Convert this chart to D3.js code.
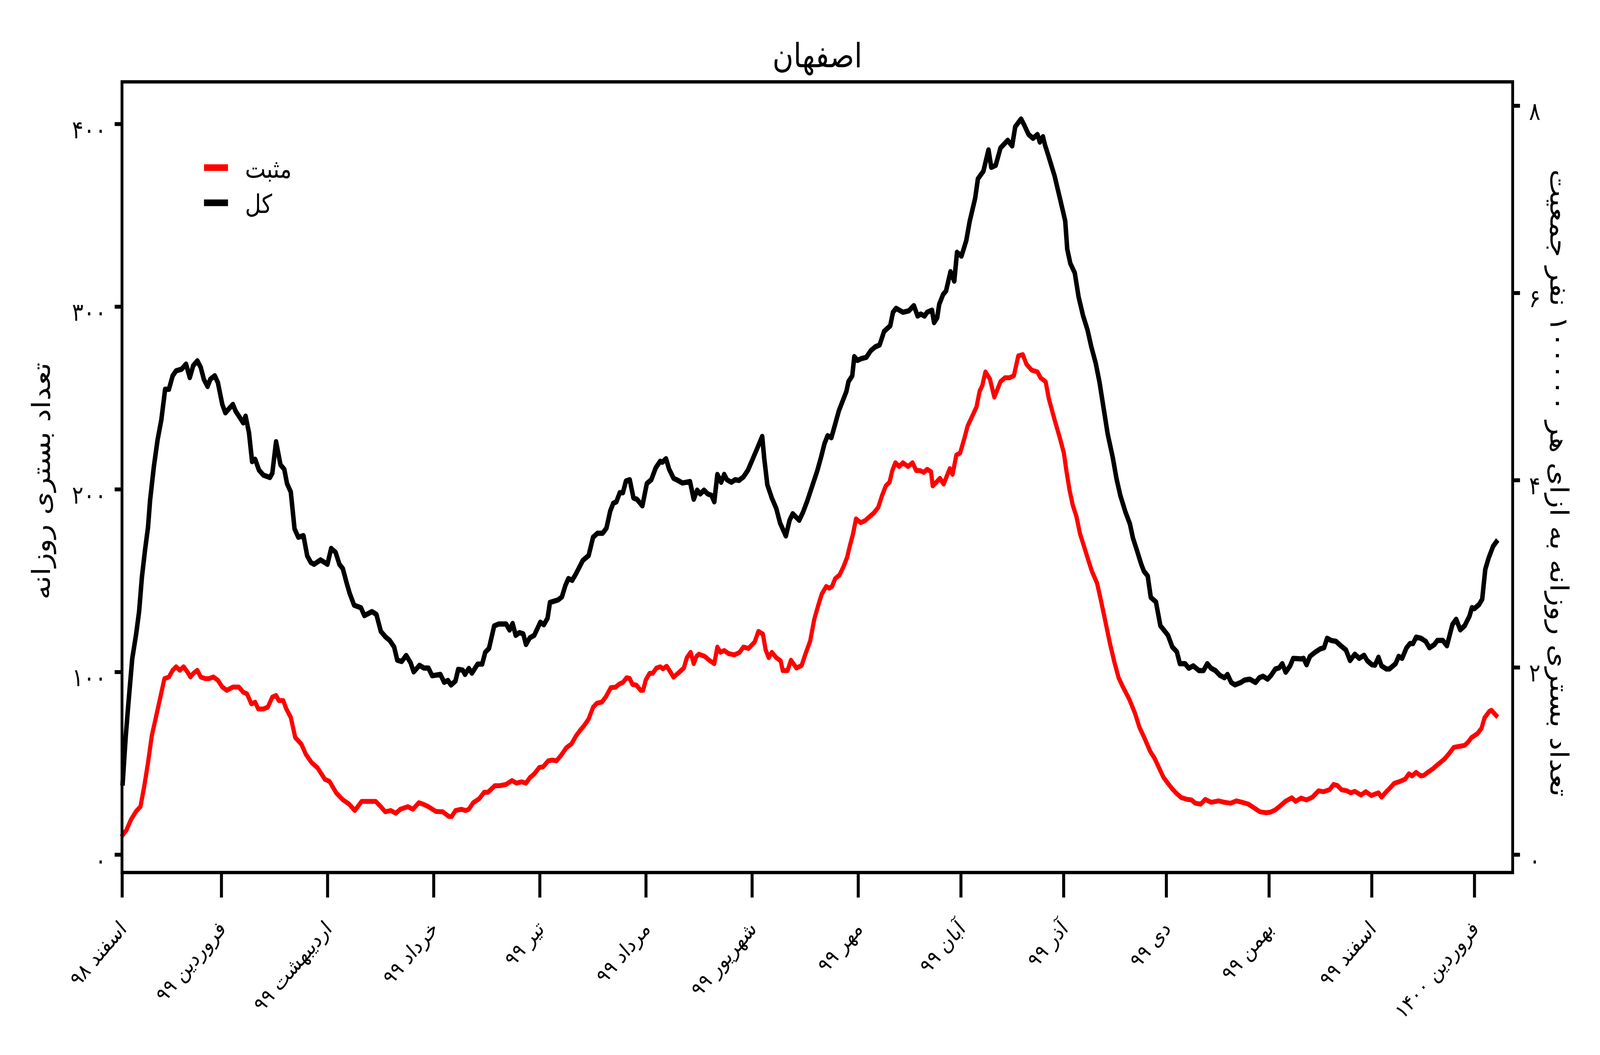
<!DOCTYPE html>
<html><head><meta charset="utf-8">
<script src="https://cdn.jsdelivr.net/npm/d3@7/dist/d3.min.js"></script>
<style>html,body{margin:0;padding:0;background:#fff;overflow:hidden;width:100%;height:100%} svg{display:block;width:100vw;height:100vh} text{font-family:"DejaVu Sans",sans-serif;fill:#000}</style>
</head><body><svg id="chart" viewBox="0 0 4800 2700" preserveAspectRatio="none"></svg>
<script>
const chartTitle = "اصفهان";
const leftAxisLabel = "تعداد بستری روزانه";
const rightAxisLabel = "تعداد بستری روزانه به ازای هر ۱۰۰۰۰۰ نفر جمعیت";
const seriesNames = ["مثبت", "کل"];
const seriesColors = ["#ff0000", "#000000"];
const monthTickDays = [0, 29, 60, 91, 122, 153, 184, 215, 245, 275, 305, 335, 365, 395];
const monthTickLabels = ["اسفند ۹۸", "فروردین ۹۹", "اردیبهشت ۹۹", "خرداد ۹۹", "تیر ۹۹", "مرداد ۹۹", "شهریور ۹۹", "مهر ۹۹", "آبان ۹۹", "آذر ۹۹", "دی ۹۹", "بهمن ۹۹", "اسفند ۹۹", "فروردین ۱۴۰۰"];
const leftTicks = [0, 100, 200, 300, 400];
const rightTicks = [0, 2, 4, 6, 8];
const population = 5125000;

// total hospitalised (black): day offset from 1 Esfand 1398, value
const totalDays = [0.2,1.1,1.9,3.0,4.1,5.0,5.8,6.7,7.6,8.2,9.3,10.4,11.5,12.6,13.7,14.8,15.8,17.4,18.7,19.8,20.8,22.0,23.0,23.9,25.0,25.8,27.1,28.0,29.3,30.2,31.5,32.4,33.2,34.5,35.4,36.1,37.1,38.0,38.9,40.0,41.3,43.2,43.9,45.0,46.3,47.4,48.2,49.3,50.4,51.5,53.0,54.1,55.2,56.1,58.0,60.0,61.1,62.4,63.5,64.5,65.6,66.5,67.8,69.8,70.8,73.0,74.3,75.6,76.9,78.2,79.5,80.4,81.7,83.0,84.3,85.2,86.9,88.2,89.5,90.6,93.0,94.1,95.2,96.1,97.4,98.2,99.5,100.2,101.3,102.2,103.9,105.2,106.1,107.2,108.7,110.0,112.2,113.2,114.1,115.0,116.1,117.2,118.0,119.1,120.4,121.3,122.2,123.2,124.3,125.0,127.4,128.5,129.5,130.4,131.5,132.6,134.6,136.3,137.6,138.9,140.4,141.5,142.6,143.5,144.4,145.4,146.3,147.2,148.3,149.4,150.4,152.0,153.3,154.6,155.9,157.2,157.8,158.9,159.8,161.1,162.4,163.7,165.9,167.0,168.0,168.9,170.0,171.1,172.2,173.0,173.9,175.0,175.9,176.7,178.0,179.1,180.2,181.5,182.8,184.1,185.4,187.0,187.6,188.5,189.8,191.1,192.2,193.9,195.0,195.9,197.8,198.9,200.2,201.3,203.1,204.2,205.2,206.1,207.2,208.3,209.4,210.5,211.6,212.2,213.3,213.9,214.8,216.1,217.4,218.7,220.0,221.3,222.6,224.4,225.2,226.1,228.1,229.8,231.3,232.4,233.3,234.4,235.2,236.6,237.2,238.1,238.7,239.8,240.7,242.0,243.1,243.9,245.2,246.6,247.6,249.2,250.0,251.6,253.1,253.9,255.2,256.6,258.7,260.0,260.9,262.6,263.5,264.8,266.1,267.4,268.1,269.0,269.6,270.7,272.4,274.2,275.5,276.1,277.0,278.3,279.4,280.7,282.0,283.1,284.4,285.5,286.6,287.9,289.4,290.5,291.6,293.1,294.4,295.3,296.4,297.7,298.5,299.6,300.5,302.0,303.3,304.4,305.5,306.8,308.1,309.0,310.5,311.6,312.9,314.6,315.9,317.0,318.1,319.4,320.7,322.0,322.9,324.0,325.1,326.8,327.9,329.4,331.1,332.2,333.3,334.6,335.6,336.9,338.0,338.9,339.9,341.2,342.1,344.4,345.1,346.0,347.0,348.6,350.0,351.1,352.0,353.2,354.6,356.0,357.5,358.7,360.1,361.4,362.8,363.7,365.1,366.0,367.0,367.9,369.3,370.2,372.0,372.9,373.9,375.2,376.2,377.1,378.0,379.4,380.8,381.9,383.3,384.2,385.8,387.0,388.6,389.7,390.9,392.2,393.6,394.3,395.0,396.4,397.3,398.2,399.1,400.5,401.4];
const totalValues = [39.2,65.0,83.4,107.4,120.3,133.1,151.6,166.3,179.2,193.9,212.3,227.1,238.1,254.7,254.7,262.1,264.8,265.7,268.5,261.1,267.6,270.3,266.7,260.2,256.2,260.2,262.1,258.4,246.4,241.8,244.6,246.4,242.7,239.0,236.3,240.0,230.8,215.1,216.4,210.5,207.7,206.4,208.7,226.0,213.3,210.9,203.1,198.5,178.3,173.7,174.6,163.5,159.8,158.9,161.3,158.9,167.6,165.4,158.9,156.5,148.8,143.0,136.5,135.1,130.8,133.0,131.5,122.2,119.3,117.2,113.6,106.4,105.7,109.0,105.0,100.0,103.6,102.1,102.1,97.9,98.6,94.3,95.3,92.8,95.0,101.4,101.0,98.6,101.9,99.3,104.3,104.3,110.7,112.9,125.1,126.2,126.2,122.9,126.5,120.0,121.5,120.8,115.0,118.6,120.0,123.6,127.2,125.8,129.4,138.0,139.4,141.1,147.3,151.1,150.1,153.7,161.0,163.7,173.7,175.9,175.9,178.7,188.0,192.3,193.1,198.1,198.1,204.5,205.2,195.2,194.5,190.9,203.1,205.2,211.7,215.3,214.8,216.7,211.0,206.0,204.8,203.4,204.2,194.5,199.5,197.4,199.5,197.4,196.6,193.1,208.1,203.8,208.1,205.2,203.8,205.2,204.8,206.7,210.3,216.0,221.7,228.9,216.7,202.4,195.2,189.5,181.6,174.4,183.0,186.6,183.0,187.3,193.8,200.0,210.2,217.6,225.0,229.3,228.2,235.6,243.0,248.3,253.6,258.9,262.1,272.6,270.5,271.6,272.2,275.8,277.9,279.0,286.4,289.5,296.9,299.0,296.9,297.6,300.5,294.8,295.9,294.8,296.9,298.0,291.2,293.8,301.2,306.5,308.6,319.1,313.9,329.7,327.6,336.1,346.6,359.3,369.9,374.1,385.8,376.2,377.3,386.8,391.0,387.9,398.4,402.7,399.5,394.2,392.1,394.2,390.0,393.0,388.4,381.9,371.5,357.3,346.9,331.4,323.6,318.4,305.4,295.1,287.3,278.2,269.1,258.8,245.8,230.3,217.3,205.6,196.6,187.5,181.0,173.2,166.8,159.0,155.1,152.5,140.8,138.3,125.3,122.7,120.1,113.6,111.0,104.5,104.5,102.0,103.3,100.7,100.7,104.5,102.0,100.7,98.1,96.8,98.6,94.2,92.9,94.2,95.5,96.0,94.2,96.8,97.6,96.0,98.0,101.6,102.2,104.5,99.8,103.3,107.4,107.1,107.4,103.9,108.5,110.9,112.6,113.2,118.4,117.2,116.7,114.3,112.0,106.2,109.7,107.4,109.1,106.2,103.9,103.7,108.0,103.3,101.6,101.6,104.5,108.5,107.4,113.2,115.5,115.5,119.0,118.4,116.7,113.2,114.9,117.2,117.2,114.3,125.9,128.8,123.0,125.3,130.6,135.2,134.6,136.9,139.8,156.1,161.9,168.8,171.1];

// positive-test hospitalised (red)
const positiveDays = [0.2,1.3,2.6,4.1,5.4,6.5,7.6,8.7,9.8,11.1,12.4,13.7,14.8,15.8,16.9,18.0,19.1,20.0,20.8,22.0,23.0,24.3,25.4,26.7,28.0,29.3,30.6,32.4,34.1,35.4,36.5,37.8,38.9,39.8,41.3,42.6,43.9,45.0,45.8,47.1,48.0,49.3,50.6,52.4,53.7,55.4,57.1,59.3,60.6,62.6,64.5,66.4,68.0,70.0,72.2,74.1,75.6,76.9,78.5,80.0,81.3,83.5,85.0,86.7,88.2,89.5,91.7,93.7,95.4,96.3,97.4,99.1,100.4,101.3,102.6,104.3,105.8,106.9,108.9,110.4,112.2,113.9,115.2,116.7,118.0,119.1,120.4,121.9,123.0,124.5,125.6,126.9,128.2,129.8,131.3,132.6,133.7,135.0,136.3,137.6,138.7,140.2,141.3,142.8,144.1,145.4,146.3,147.4,148.3,149.1,150.2,151.5,152.2,153.0,154.1,155.0,156.1,157.2,158.0,159.1,160.2,161.1,162.4,164.1,165.0,166.1,167.0,167.8,168.5,170.2,171.5,173.0,173.9,174.8,175.9,177.2,178.9,180.4,181.5,183.0,184.8,185.9,187.2,188.0,188.9,189.8,191.1,192.4,193.0,194.4,195.4,197.0,198.5,199.8,201.0,202.2,203.5,204.4,205.7,206.6,207.4,208.3,209.6,210.7,211.8,212.6,213.5,214.4,215.7,217.0,218.3,219.6,220.9,222.0,223.1,224.2,225.0,225.9,227.0,228.1,229.6,230.9,232.0,233.1,234.2,235.2,236.3,236.8,237.9,238.9,240.0,240.9,241.8,242.6,243.7,244.8,246.1,247.0,248.3,249.6,250.5,251.3,252.2,253.5,254.8,256.6,257.9,259.2,260.5,261.8,263.1,264.2,265.7,267.4,268.3,269.8,270.7,272.4,273.8,275.1,275.9,276.8,277.7,278.8,279.8,281.1,282.4,283.3,284.8,285.9,287.2,288.5,289.8,291.1,292.4,294.2,295.9,297.2,298.5,300.3,301.6,302.9,304.2,305.5,306.8,308.1,309.4,311.1,312.4,313.5,315.1,316.4,318.1,320.3,322.0,323.8,325.5,327.2,329.0,330.7,332.4,334.2,335.5,336.9,338.0,339.8,341.7,342.8,344.4,346.0,347.7,349.5,350.9,352.7,353.9,355.0,356.2,357.8,358.9,360.1,361.9,363.3,364.9,367.0,367.9,369.3,370.2,371.6,373.4,374.8,375.9,376.8,378.0,379.4,380.3,381.7,383.0,384.4,386.3,387.6,389.0,390.9,392.2,393.2,394.1,395.9,397.1,398.0,399.4,400.0,401.4];
const positiveValues = [10.7,13.4,19.0,23.6,26.3,37.4,50.3,65.0,74.2,85.3,96.3,97.2,100.9,102.8,100.9,102.8,100.0,97.2,99.1,100.9,97.2,96.3,96.3,97.2,95.4,91.7,89.9,91.7,91.7,88.9,88.0,82.5,83.4,79.7,79.7,80.7,86.2,87.1,84.3,84.3,79.7,75.1,64.1,60.4,54.9,50.3,47.5,41.1,40.1,33.7,30.0,27.5,24.1,29.1,29.1,29.1,26.2,23.4,24.1,22.6,24.8,26.2,24.8,28.4,27.4,26.2,23.6,23.4,20.9,20.8,24.1,24.8,24.1,24.8,28.4,30.5,34.1,34.1,37.7,37.7,38.4,40.5,39.1,39.8,39.1,42.0,44.1,47.7,48.0,51.3,51.7,51.3,54.2,58.5,60.6,64.9,67.7,70.6,74.2,80.6,82.8,83.5,86.3,91.4,91.6,93.5,94.2,96.8,96.4,93.1,92.8,89.9,89.9,95.6,99.2,99.2,102.1,102.8,101.7,103.1,99.9,97.1,99.2,102.1,107.8,110.7,104.5,108.5,109.7,108.5,106.4,104.5,113.6,110.7,111.7,110.0,109.3,110.7,113.6,112.8,116.4,122.2,120.7,112.1,107.8,110.7,107.8,106.0,100.7,100.7,106.4,102.1,103.5,110.7,116.8,128.8,137.3,142.6,146.8,145.8,146.8,151.0,153.1,157.4,162.7,169.0,175.3,183.8,181.7,182.7,184.9,187.0,190.1,196.5,201.8,203.9,210.2,214.5,212.4,214.5,212.4,214.5,210.2,210.2,209.2,210.9,209.6,201.8,203.9,206.0,202.8,207.1,211.3,208.1,218.7,219.8,228.2,234.6,239.8,245.1,253.6,256.8,264.2,260.4,250.4,258.9,261.0,261.0,262.1,273.0,273.7,268.4,265.2,264.2,261.0,258.8,249.7,238.0,229.0,219.9,209.5,199.2,191.4,184.9,175.8,168.1,160.3,155.1,148.6,139.5,127.9,116.2,105.8,96.8,91.6,85.1,77.3,69.6,64.4,56.6,52.7,47.5,42.3,39.0,35.9,33.3,31.2,30.2,29.9,28.1,27.6,30.2,28.6,29.4,28.6,28.1,29.4,28.6,27.6,25.5,23.4,22.9,23.2,24.5,26.2,29.1,31.1,29.1,30.9,29.9,31.4,34.9,34.4,35.5,38.4,37.8,35.5,34.9,33.8,34.6,32.6,34.4,32.3,33.8,31.4,34.4,36.1,39.0,40.1,41.3,44.2,43.0,45.0,43.0,43.4,45.4,47.1,49.4,52.3,55.2,58.7,59.3,59.8,61.6,63.9,66.2,69.1,74.9,78.4,79.0,76.1];

const faDigits = "۰۱۲۳۴۵۶۷۸۹";
const toFa = n => String(n).replace(/[0-9]/g, c => faDigits[+c]);

const svg = d3.select("#chart");
svg.append("rect").attr("width", 4800).attr("height", 2700).attr("fill", "#fff");

const P = {left: 366, right: 4538, top: 209.5, bottom: 2233};
const x = d3.scaleLinear().domain([0, 406.2]).range([P.left, P.right]);
const y = d3.scaleLinear().domain([-9.84, 423.0]).range([P.bottom, P.top]);
const yR = d3.scaleLinear().domain(y.domain().map(v => v * 100000 / population)).range([P.bottom, P.top]);

const FS_TICK = 64, FS_X = 55, FS_LABEL = 76, FS_LEG = 66, FS_TITLE = 86;

// lines
const line = d3.line().x(d => x(d[0])).y(d => y(d[1]));
const series = [d3.zip(positiveDays, positiveValues), d3.zip(totalDays, totalValues)];
const widths = [12.5, 13.5];
series.forEach((s, i) => {
  svg.append("path").datum(s).attr("d", line)
    .attr("fill", "none").attr("stroke", seriesColors[i]).attr("stroke-width", widths[i])
    .attr("stroke-linejoin", "round").attr("stroke-linecap", "square");
});

// bottom axis
const gx = svg.append("g").attr("transform", `translate(0,${P.bottom})`)
  .call(d3.axisBottom(x).tickValues(monthTickDays).tickFormat((d, i) => monthTickLabels[i]).tickSize(64).tickSizeOuter(0));
gx.select(".domain").remove();
gx.selectAll(".tick line").attr("stroke", "#000").attr("stroke-width", 9);
gx.selectAll(".tick text").attr("x", 0).attr("y", 0).attr("dy", null)
  .attr("text-anchor", "end").attr("font-size", FS_X).attr("fill", "#000")
  .attr("transform", "translate(16,147) rotate(-45)");

// left axis
const gl = svg.append("g").attr("transform", `translate(${P.left},0)`)
  .call(d3.axisLeft(y).tickValues(leftTicks).tickFormat(toFa).tickSize(22).tickPadding(25).tickSizeOuter(0));
gl.select(".domain").remove();
gl.selectAll(".tick line").attr("stroke", "#000").attr("stroke-width", 10);
gl.selectAll(".tick text").attr("dy", null).attr("y", 36).attr("font-size", FS_TICK)
  .attr("letter-spacing", 8).attr("fill", "#000");

// right axis
const gr = svg.append("g").attr("transform", `translate(${P.right},0)`)
  .call(d3.axisRight(yR).tickValues(rightTicks).tickFormat(toFa).tickSize(22).tickPadding(27).tickSizeOuter(0));
gr.select(".domain").remove();
gr.selectAll(".tick line").attr("stroke", "#000").attr("stroke-width", 10);
gr.selectAll(".tick text").attr("dy", null).attr("y", 36).attr("font-size", FS_TICK).attr("fill", "#000");

// frame
svg.append("rect").attr("x", P.left).attr("y", P.top).attr("width", P.right - P.left).attr("height", P.bottom - P.top)
  .attr("fill", "none").attr("stroke", "#000").attr("stroke-width", 8.5);

// axis labels
svg.append("text").attr("transform", `translate(124,${(P.top + P.bottom) / 2 + 10}) rotate(-90)`)
  .attr("text-anchor", "middle").attr("dominant-baseline", "central").attr("font-size", FS_LABEL).text(leftAxisLabel);
svg.append("text").attr("transform", `translate(4678,${(P.top + P.bottom) / 2 + 15}) rotate(90)`)
  .attr("text-anchor", "middle").attr("dominant-baseline", "central").attr("font-size", FS_LABEL).text(rightAxisLabel);

// title
svg.append("text").attr("x", (P.left + P.right) / 2).attr("y", 172).attr("text-anchor", "middle")
  .attr("font-size", FS_TITLE).text(chartTitle);

// legend
const legY = [429, 519];
seriesNames.forEach((n, i) => {
  svg.append("line").attr("x1", 612).attr("x2", 684).attr("y1", legY[i]).attr("y2", legY[i])
    .attr("stroke", seriesColors[i]).attr("stroke-width", 17);
  svg.append("text").attr("x", 735).attr("y", legY[i] + 26).attr("font-size", FS_LEG).text(n);
});
</script></body></html>
